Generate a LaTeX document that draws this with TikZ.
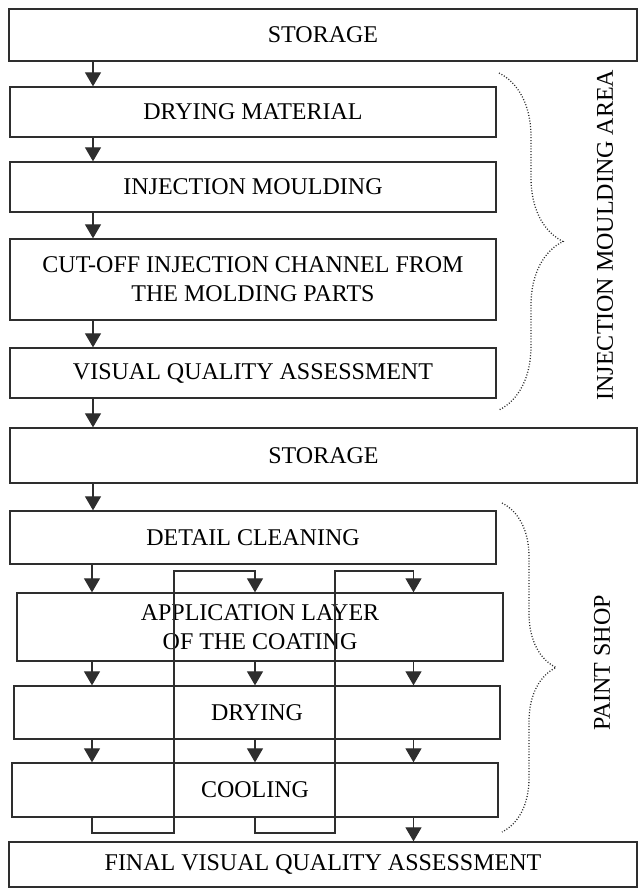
\documentclass[tikz,border=0pt]{standalone}
\usepackage{fontspec}
\setmainfont{Liberation Serif}
\usetikzlibrary{arrows.meta,decorations.pathreplacing}

\definecolor{ink}{gray}{0.18}

\begin{document}
\begin{tikzpicture}[x=0.5pt,y=-0.5pt,
  line width=0.6pt,
  stage/.style={draw=ink, line width=0.65pt, inner sep=0pt, align=center,
    font=\fontsize{12}{14.5}\selectfont},
  flow/.style={draw=ink, -{Triangle[length=7pt,width=8pt]}, line width=0.6pt},
  areabrace/.style={draw=ink, line width=0.65pt, dash pattern=on 0.5pt off 0.9pt,
    decorate, decoration={brace, amplitude=#1}},
  arealabel/.style={rotate=90, font=\fontsize{12}{14.5}\selectfont}]

\useasboundingbox (0,0) rectangle (641,888);

% process stages
\node[stage, minimum width=314pt, minimum height=26pt]   (st1)   at (323,35)    {STORAGE};
\node[stage, minimum width=243pt, minimum height=25pt]   (drym)  at (253,112)   {DRYING MATERIAL};
\node[stage, minimum width=243pt, minimum height=25pt]   (inj)   at (253,187)   {INJECTION MOULDING};
\node[stage, minimum width=243pt, minimum height=40.5pt] (cut)   at (253,279.5) {CUT-OFF INJECTION CHANNEL FROM\\THE MOLDING PARTS};
\node[stage, minimum width=243pt, minimum height=25pt]   (vis)   at (253,373)   {VISUAL QUALITY ASSESSMENT};
\node[stage, minimum width=313.5pt, minimum height=27.5pt] (st2) at (323.5,455.5) {STORAGE};
\node[stage, minimum width=243pt, minimum height=26.5pt] (clean) at (253,537.5) {DETAIL CLEANING};
\node[stage, minimum width=243pt, minimum height=34pt]   (app)   at (260,627)   {APPLICATION LAYER\\OF THE COATING};
\node[stage, minimum width=243pt, minimum height=26.5pt] (dry)   at (257,712.5) {DRYING};
\node[stage, minimum width=243pt, minimum height=27pt]   (cool)  at (255,790)   {COOLING};
\node[stage, minimum width=314pt, minimum height=22.5pt] (final) at (323,864.5) {FINAL VISUAL QUALITY ASSESSMENT};

% column positions of the connectors
\coordinate (ax) at (93,0);
\coordinate (c1) at (92,0);
\coordinate (c2) at (255,0);
\coordinate (c3) at (413.5,0);
\coordinate (lx1) at (174,0);
\coordinate (lx2) at (335,0);
\coordinate (lt) at (0,571);
\coordinate (lb) at (0,833);

% main line
\draw[flow] (st1.south -| ax)   -- (drym.north -| ax);
\draw[flow] (drym.south -| ax)  -- (inj.north -| ax);
\draw[flow] (inj.south -| ax)   -- (cut.north -| ax);
\draw[flow] (cut.south -| ax)   -- (vis.north -| ax);
\draw[flow] (vis.south -| ax)   -- (st2.north -| ax);
\draw[flow] (st2.south -| ax)   -- (clean.north -| ax);

% paint shop: three passes
\draw[flow] (clean.south -| c1) -- (app.north -| c1);
\foreach \c in {c1,c2,c3} {
  \draw[flow] (app.south -| \c) -- (dry.north -| \c);
  \draw[flow] (dry.south -| \c) -- (cool.north -| \c);
}
\draw[flow] (cool.south -| c1) -- (c1 |- lb) -- (lx1 |- lb) -- (lx1 |- lt)
            -- (c2 |- lt) -- (app.north -| c2);
\draw[flow] (cool.south -| c2) -- (c2 |- lb) -- (lx2 |- lb) -- (lx2 |- lt)
            -- (c3 |- lt) -- (app.north -| c3);
\draw[flow] (cool.south -| c3) -- (final.north -| c3);

% area braces and labels
\coordinate (b1t) at (499,73);
\coordinate (b1b) at (499,410);
\coordinate (b2t) at (502,503);
\coordinate (b2b) at (502,832);
\draw[areabrace=32pt] (b1t) -- (b1b);
\draw[areabrace=27pt] (b2t) -- (b2b);
\node[arealabel] (lab1) at (605,235) {INJECTION MOULDING AREA};
\node[arealabel] (lab2) at (602,663) {PAINT SHOP};

\end{tikzpicture}
\end{document}
